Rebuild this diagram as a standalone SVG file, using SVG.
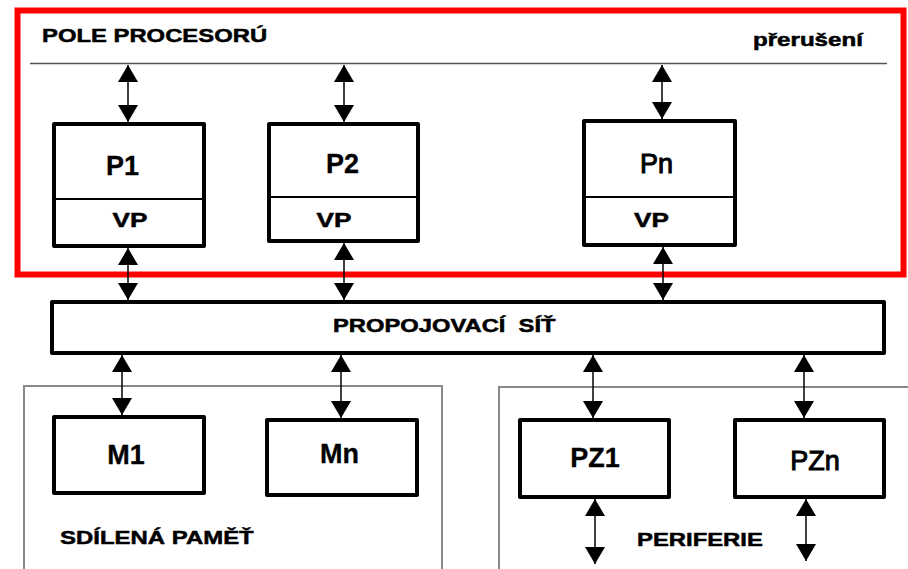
<svg xmlns="http://www.w3.org/2000/svg" width="908" height="569" viewBox="0 0 908 569">
<defs>
<style>
.box{fill:#fff;stroke:#000;stroke-width:4;stroke-linejoin:round}
.div{stroke:#000;stroke-width:2}
.grp{fill:none;stroke:#888;stroke-width:2}
.lbl{font-family:"Liberation Sans",Arial,sans-serif;font-weight:bold;fill:#000;stroke:#000;stroke-width:0.5}
.big{font-size:27px;text-anchor:middle;stroke-width:0.3}
.reg{font-weight:normal;stroke-width:1}
.sm{font-size:19px}
.vp{font-size:20px;text-anchor:middle}
.con line{stroke:#000;stroke-width:1.5;marker-start:url(#ah);marker-end:url(#ah)}
</style>
<marker id="ah" viewBox="0 0 17 20" refX="17" refY="10" markerWidth="17" markerHeight="20" markerUnits="userSpaceOnUse" orient="auto-start-reverse">
<path d="M0,0 L17,10 L0,20 Z" fill="#000"/>
</marker>
</defs>
<rect width="908" height="569" fill="#fff"/>

<g id="pole-procesoru">
<rect x="17.5" y="10.5" width="886" height="264" fill="none" stroke="#ff0000" stroke-width="6"/>
<line x1="30" y1="63.5" x2="887" y2="63.5" stroke="#555" stroke-width="1.5"/>
<text class="lbl sm" transform="translate(42,42) scale(1.255,1)">POLE PROCESORÚ</text>
<text class="lbl" style="font-size:18px" transform="translate(753,46) scale(1.34,1)">přerušení</text>
</g>

<g id="sdilena-pamet">
<rect class="grp" x="24" y="386" width="418" height="200"/>
<text class="lbl sm" transform="translate(60,544) scale(1.26,1)">SDÍLENÁ PAMĚŤ</text>
</g>

<g id="periferie">
<rect class="grp" x="499" y="387" width="420" height="200"/>
<text class="lbl sm" transform="translate(637,546) scale(1.256,1)">PERIFERIE</text>
</g>

<g id="P1">
<rect class="box" x="54" y="124" width="150" height="122"/>
<line class="div" x1="54" y1="199" x2="204" y2="199"/>
<text class="lbl big" x="122.5" y="175">P1</text>
<text class="lbl vp" transform="translate(130,227) scale(1.31,1)">VP</text>
</g>

<g id="P2">
<rect class="box" x="269" y="124" width="149" height="117"/>
<line class="div" x1="269" y1="197" x2="418" y2="197"/>
<text class="lbl big" x="342.5" y="173">P2</text>
<text class="lbl vp" transform="translate(334,227) scale(1.31,1)">VP</text>
</g>

<g id="Pn">
<rect class="box" x="584" y="121" width="151" height="124"/>
<line class="div" x1="584" y1="197" x2="735" y2="197"/>
<text class="lbl big reg" x="656.5" y="173">Pn</text>
<text class="lbl vp" transform="translate(651.5,227) scale(1.31,1)">VP</text>
</g>

<g id="propojovaci-sit">
<rect class="box" x="52" y="302" width="832" height="51"/>
<text class="lbl" style="font-size:18px;white-space:pre" transform="translate(333,332) scale(1.32,1)">PROPOJOVACÍ  SÍŤ</text>
</g>

<g id="M1">
<rect class="box" x="54" y="417" width="150" height="76"/>
<text class="lbl big" x="126" y="464">M1</text>
</g>

<g id="Mn">
<rect class="box" x="267" y="420" width="150" height="75"/>
<text class="lbl big" x="339.5" y="463">Mn</text>
</g>

<g id="PZ1">
<rect class="box" x="520" y="420" width="149" height="77"/>
<text class="lbl big" x="595" y="467">PZ1</text>
</g>

<g id="PZn">
<rect class="box" x="735" y="420" width="149" height="77"/>
<text class="lbl big reg" x="815" y="470">PZn</text>
</g>

<g id="connectors" class="con">
<line x1="128" y1="65" x2="128" y2="122"/>
<line x1="344" y1="65" x2="344" y2="122"/>
<line x1="662" y1="65" x2="662" y2="119"/>
<line x1="128" y1="248" x2="128" y2="300"/>
<line x1="344" y1="243" x2="344" y2="300"/>
<line x1="663" y1="247" x2="663" y2="300"/>
<line x1="122" y1="355" x2="122" y2="415"/>
<line x1="341" y1="355" x2="341" y2="418"/>
<line x1="593" y1="355" x2="593" y2="418"/>
<line x1="804" y1="355" x2="804" y2="418"/>
<line x1="595" y1="499" x2="595" y2="564"/>
<line x1="806" y1="499" x2="806" y2="561"/>
</g>
</svg>
